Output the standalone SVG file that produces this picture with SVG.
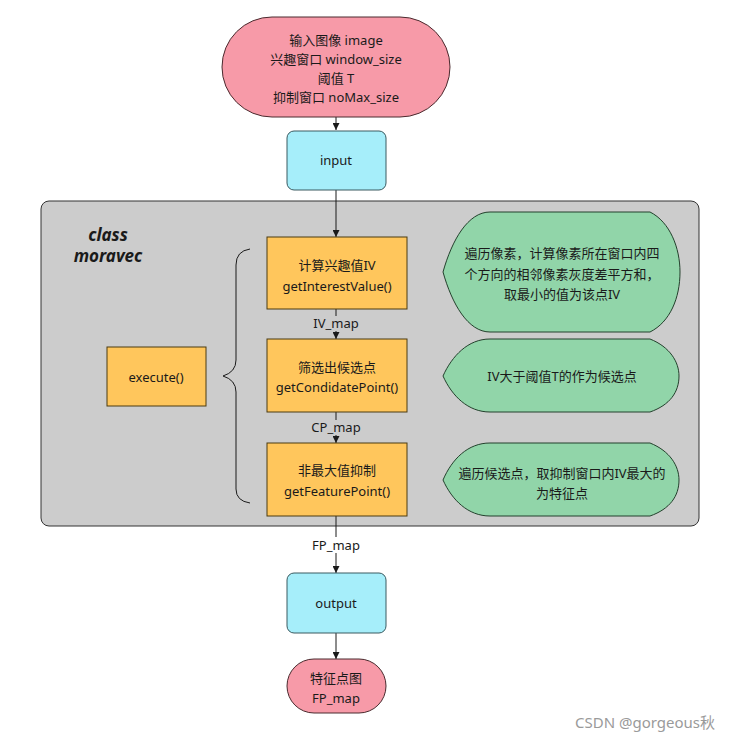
<svg xmlns="http://www.w3.org/2000/svg" width="733" height="743" viewBox="0 0 733 743">
<defs>
<marker id="arr" viewBox="0 0 10 10" refX="10" refY="5" markerWidth="7" markerHeight="7" markerUnits="userSpaceOnUse" orient="auto">
<path d="M0,0 L10,5 L0,10 Z" fill="#1a1a1a"/>
</marker>
</defs>
<style>
text{font-family:"Noto Sans","Noto Sans CJK SC",sans-serif;font-size:13px;fill:#1a1a1a;text-anchor:middle}
.pink{fill:#f79aa8;stroke:#4a2a2e;stroke-width:1}
.cyan{fill:#a6eefa;stroke:#3a5a60;stroke-width:1}
.orange{fill:#ffc65c;stroke:#4a3a10;stroke-width:1}
.green{fill:#91d5a9;stroke:#23402c;stroke-width:1}
.edge{stroke:#1a1a1a;stroke-width:1;fill:none}
</style>
<rect width="733" height="743" fill="#ffffff"/>
<g id="container">
<rect x="41" y="201" width="658" height="325" rx="8" fill="#cccccc" stroke="#333333" stroke-width="1"/>
<text x="108" y="241" style="font-weight:bold;font-style:italic;font-size:17px">class</text>
<text x="108" y="262" style="font-weight:bold;font-style:italic;font-size:17px">moravec</text>
</g>
<g id="connectors">
<line class="edge" x1="336" y1="117" x2="336" y2="130" marker-end="url(#arr)"/>
<line class="edge" x1="336" y1="190" x2="336" y2="237" marker-end="url(#arr)"/>
<line class="edge" x1="336" y1="309" x2="336" y2="339" marker-end="url(#arr)"/>
<line class="edge" x1="336" y1="412" x2="336" y2="443" marker-end="url(#arr)"/>
<line class="edge" x1="336" y1="516" x2="336" y2="573" marker-end="url(#arr)"/>
<line class="edge" x1="336" y1="633" x2="336" y2="659" marker-end="url(#arr)"/>
<rect x="312" y="316" width="48" height="15" fill="#cccccc"/>
<text x="336" y="328">IV_map</text>
<rect x="310" y="420" width="52" height="15" fill="#cccccc"/>
<text x="336" y="432">CP_map</text>
<rect x="310" y="537" width="52" height="16" fill="#ffffff"/>
<text x="336" y="550">FP_map</text>
<path class="edge" d="M250,249 Q236,251 236,265 L236,360 Q236,372 223,376 Q236,380 236,392 L236,489 Q236,501 250,503" stroke="#444444"/>
</g>
<g id="start">
<rect class="pink" x="222" y="17" width="228" height="100" rx="50"/>
<text x="336" y="45">输入图像 image</text>
<text x="336" y="64">兴趣窗口 window_size</text>
<text x="336" y="83">阈值 T</text>
<text x="336" y="102">抑制窗口 noMax_size</text>
</g>
<g id="input">
<rect class="cyan" x="287" y="131" width="99" height="59" rx="7"/>
<text x="336" y="165">input</text>
</g>
<g id="execute">
<rect class="orange" x="107" y="347" width="99" height="59"/>
<text x="156" y="382">execute()</text>
</g>
<g id="getInterestValue">
<rect class="orange" x="267" y="237" width="140" height="72"/>
<text x="337" y="270">计算兴趣值IV</text>
<text x="337" y="291">getInterestValue()</text>
</g>
<g id="getCondidatePoint">
<rect class="orange" x="267" y="339" width="140" height="73"/>
<text x="337" y="372">筛选出候选点</text>
<text x="337" y="392">getCondidatePoint()</text>
</g>
<g id="getFeaturePoint">
<rect class="orange" x="267" y="443" width="140" height="73"/>
<text x="337" y="475">非最大值抑制</text>
<text x="337" y="496">getFeaturePoint()</text>
</g>
<g id="note1">
<path class="green" d="M443,272 C452,240 468,212 490,212 L650,212 C670,222 680,248 680,272 C680,298 670,322 650,332 L490,332 C468,332 452,304 443,272 Z"/>
<text x="562" y="258">遍历像素，计算像素所在窗口内四</text>
<text x="562" y="279">个方向的相邻像素灰度差平方和，</text>
<text x="562" y="299">取最小的值为该点IV</text>
</g>
<g id="note2">
<path class="green" d="M443,376 C452,356 468,339 490,339 L650,339 C670,347 679,362 679,376 C679,392 670,405 650,412 L490,412 C468,412 452,396 443,376 Z"/>
<text x="562" y="381">IV大于阈值T的作为候选点</text>
</g>
<g id="note3">
<path class="green" d="M443,480 C452,459 468,443 490,443 L650,443 C670,451 679,466 679,480 C679,496 670,509 650,516 L490,516 C468,516 452,500 443,480 Z"/>
<text x="562" y="478">遍历候选点，取抑制窗口内IV最大的</text>
<text x="562" y="498">为特征点</text>
</g>
<g id="output">
<rect class="cyan" x="287" y="573" width="99" height="60" rx="7"/>
<text x="336" y="608">output</text>
</g>
<g id="end">
<rect class="pink" x="287" y="659" width="99" height="54" rx="27"/>
<text x="336" y="683">特征点图</text>
<text x="336" y="703">FP_map</text>
</g>
<text x="645" y="728" style="font-size:15px;fill:#9a9a9a">CSDN @gorgeous秋</text>
</svg>
